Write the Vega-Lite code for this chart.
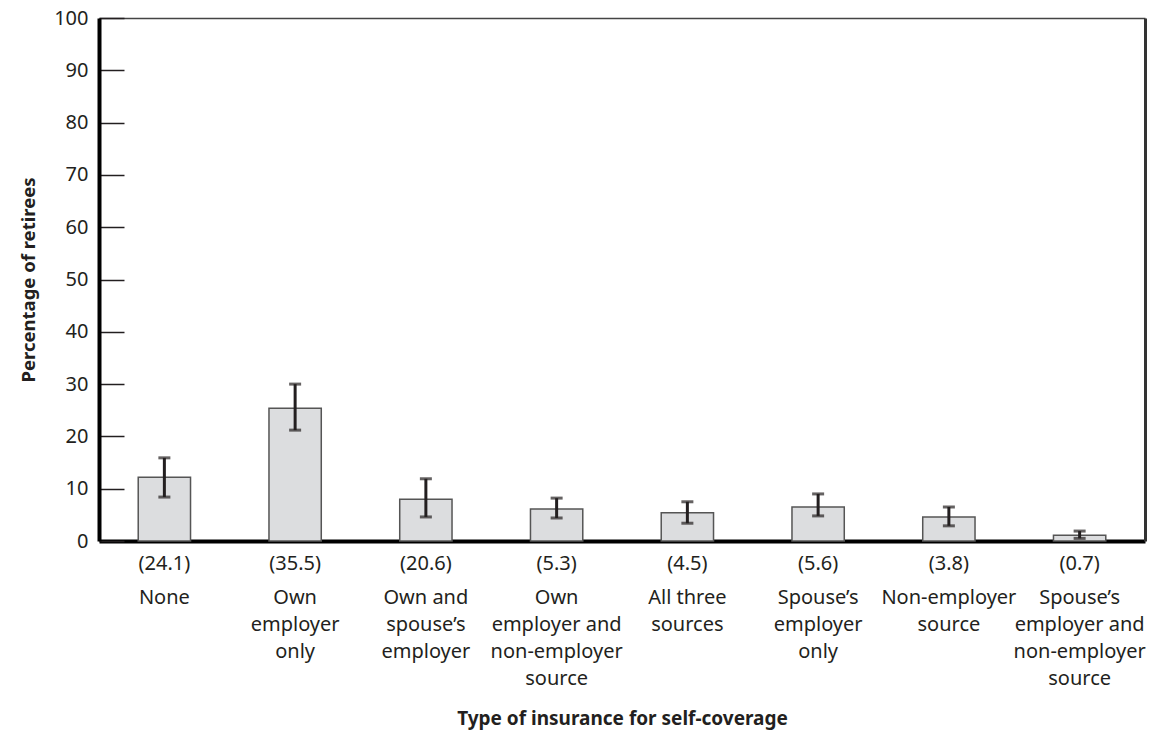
{
  "$schema": "https://vega.github.io/schema/vega-lite/v6.json",
  "width": 1046,
  "height": 523,
  "autosize": {"type": "none"},
  "padding": {"left": 99, "top": 18, "right": 11, "bottom": 191},
  "background": "white",
  "config": {
    "view": {"stroke": null},
    "font": "Noto Sans",
    "axis": {"labelFont": "Noto Sans", "titleFont": "Noto Sans", "labelColor": "#231f20", "titleColor": "#231f20"}
  },
  "data": {
    "values": [
      {"cat": "(24.1)|None", "pct": 12.2, "lo": 8.4, "hi": 15.9},
      {"cat": "(35.5)|Own|employer|only", "pct": 25.4, "lo": 21.2, "hi": 30.0},
      {"cat": "(20.6)|Own and|spouse’s|employer", "pct": 8.0, "lo": 4.6, "hi": 11.9},
      {"cat": "(5.3)|Own|employer and|non-employer|source", "pct": 6.1, "lo": 4.4, "hi": 8.2},
      {"cat": "(4.5)|All three|sources", "pct": 5.4, "lo": 3.4, "hi": 7.5},
      {"cat": "(5.6)|Spouse’s|employer|only", "pct": 6.5, "lo": 4.8, "hi": 9.0},
      {"cat": "(3.8)|Non-employer|source", "pct": 4.6, "lo": 2.9, "hi": 6.5},
      {"cat": "(0.7)|Spouse’s|employer and|non-employer|source", "pct": 1.1, "lo": 0.5, "hi": 1.9}
    ]
  },
  "resolve": {"axis": {"x": "independent", "y": "independent"}},
  "layer": [
    {
      "mark": {"type": "bar", "fill": "#dcdddf", "stroke": "#555555", "strokeWidth": 1.5},
      "encoding": {
        "x": {
          "field": "cat", "type": "nominal", "sort": null,
          "scale": {"paddingInner": 0.6, "paddingOuter": 0.3},
          "axis": {
            "orient": "bottom",
            "title": null,
            "labelExpr": "split(datum.label, '|')[0]",
            "labelAngle": 0, "labelFontSize": 20,
            "labelPadding": 12, "labelBaseline": "top",
            "ticks": false, "domainColor": "#000000", "domainWidth": 4,
            "labelOverlap": false, "labelLimit": 0
          }
        },
        "y": {
          "field": "pct", "type": "quantitative",
          "scale": {"domain": [0, 100], "nice": false},
          "axis": {
            "orient": "left",
            "title": "Percentage of retirees",
            "titleFontSize": 18.5, "titleFontWeight": "bold",
            "titleX": -71, "titleY": 261.5, "titleBaseline": "middle",
            "values": [0, 10, 20, 30, 40, 50, 60, 70, 80, 90, 100],
            "labelFontSize": 20, "labelPadding": 36,
            "tickSize": -25, "tickColor": "#231f20", "tickWidth": 1.5,
            "domainColor": "#000000", "domainWidth": 4,
            "grid": false
          }
        }
      }
    },
    {
      "mark": {"type": "rule", "color": "#231f20", "strokeWidth": 3},
      "encoding": {
        "x": {
          "field": "cat", "type": "nominal", "sort": null,
          "axis": {"orient": "top", "title": null, "labels": false, "ticks": false, "domainColor": "#444444", "domainWidth": 1.5}
        },
        "y": {
          "field": "lo", "type": "quantitative",
          "axis": {"orient": "right", "title": null, "labels": false, "ticks": false, "grid": false, "domainColor": "#333333", "domainWidth": 3}
        },
        "y2": {"field": "hi"}
      }
    },
    {
      "mark": {"type": "tick", "color": "#231f20", "thickness": 3, "size": 12},
      "encoding": {
        "x": {
          "field": "cat", "type": "nominal", "sort": null,
          "axis": {
            "orient": "bottom",
            "title": "Type of insurance for self-coverage",
            "titleFontSize": 19, "titleFontWeight": "bold",
            "titleY": 177, "titleBaseline": "middle",
            "labelExpr": "slice(split(datum.label, '|'), 1)",
            "labelAngle": 0, "labelFontSize": 20, "labelLineHeight": 27,
            "labelPadding": 46, "labelBaseline": "top",
            "ticks": false, "domain": false,
            "labelOverlap": false, "labelLimit": 0
          }
        },
        "y": {"field": "lo", "type": "quantitative", "axis": null}
      }
    },
    {
      "mark": {"type": "tick", "color": "#231f20", "thickness": 3, "size": 12},
      "encoding": {
        "x": {"field": "cat", "type": "nominal", "sort": null, "axis": null},
        "y": {"field": "hi", "type": "quantitative", "axis": null}
      }
    }
  ]
}
